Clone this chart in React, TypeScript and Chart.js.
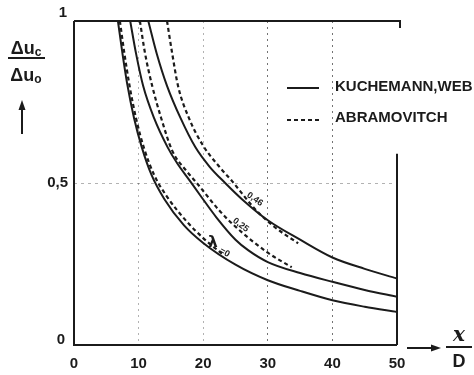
import React, { useEffect, useRef } from 'react';
import { Chart, registerables } from 'chart.js';

Chart.register(...registerables);

// ---- data ----
const xTickValues = [0, 10, 20, 30, 40, 50];
const yTickValues = [0, 0.5, 1];
const yTickLabels = ['0', '0,5', '1'];

const legendLabels = ['KUCHEMANN,WEB', 'ABRAMOVITCH'];
const curveLabels = ['0,46', '0,25', '=0'];

// KUCHEMANN, WEBER (solid)
const kuchemannL0 = [[6.8, 1.0], [7.5, 0.9], [8.2, 0.81], [9.3, 0.7], [10.5, 0.61], [12, 0.525], [14, 0.45], [17, 0.37], [20, 0.315], [25, 0.248], [30, 0.2], [35, 0.167], [40, 0.138], [45, 0.118], [50, 0.102]];
const kuchemannL025 = [[8.7, 1.0], [9.6, 0.9], [10.7, 0.8], [12.4, 0.7], [14.5, 0.61], [16, 0.56], [18, 0.505], [19.5, 0.463], [22, 0.395], [25, 0.325], [27, 0.292], [30, 0.256], [35, 0.222], [40, 0.195], [45, 0.17], [50, 0.149]];
const kuchemannL046 = [[11.5, 1.0], [12.8, 0.9], [14.4, 0.8], [16.5, 0.7], [18.8, 0.61], [21, 0.55], [23.4, 0.5], [26, 0.45], [30, 0.385], [35, 0.325], [40, 0.27], [45, 0.235], [50, 0.205]];

// ABRAMOVITCH (dashed)
const abramovitchL0 = [[7.1, 1.0], [7.8, 0.9], [8.6, 0.8], [9.6, 0.7], [10.8, 0.61], [12.4, 0.525], [14.5, 0.455], [17.5, 0.38], [20, 0.33], [23, 0.28]];
const abramovitchL025 = [[10.2, 1.0], [11, 0.9], [12.1, 0.8], [13.5, 0.7], [15.2, 0.6], [17.5, 0.535], [19, 0.5], [22.5, 0.415], [25, 0.365], [30, 0.285], [33.7, 0.24]];
const abramovitchL046 = [[14.4, 1.0], [15.2, 0.9], [16.1, 0.8], [17.8, 0.7], [20, 0.615], [22.5, 0.55], [24.5, 0.505], [28, 0.42], [31, 0.365], [34.7, 0.314]];

const INK = '#1b1b1b';
const FONT = "'Liberation Sans', Arial, sans-serif";

export default function App() {
  const ref = useRef<HTMLCanvasElement>(null);

  useEffect(() => {
    document.body.style.margin = '0';
    document.body.style.background = '#ffffff';
    const canvas = ref.current;
    if (!canvas) return;

    const toPts = (arr: number[][]) => arr.map(([x, y]) => ({ x, y }));
    const solid = (arr: number[][], label: string) => ({
      label,
      data: toPts(arr),
      borderColor: INK,
      borderWidth: 2,
      pointRadius: 0,
      cubicInterpolationMode: 'monotone' as const,
      fill: false,
    });
    const dashed = (arr: number[][], label: string) => ({
      ...solid(arr, label),
      borderDash: [4, 3],
      borderWidth: 2.2,
    });

    const decor = {
      id: 'decor',
      afterDraw(chart: any) {
        const { ctx, chartArea } = chart;
        const xs = chart.scales.x;
        const ys = chart.scales.y;
        const L = chartArea.left, R = chartArea.right, T = chartArea.top, B = chartArea.bottom;
        ctx.save();
        ctx.strokeStyle = INK;
        ctx.fillStyle = INK;
        ctx.lineWidth = 2;
        ctx.setLineDash([]);
        // frame
        ctx.beginPath();
        ctx.moveTo(L, T); ctx.lineTo(L, B); ctx.lineTo(R, B);
        ctx.moveTo(R, B); ctx.lineTo(R, ys.getPixelForValue(0.59));
        ctx.moveTo(L, T); ctx.lineTo(R + 3, T); ctx.lineTo(R + 3, T + 7);
        ctx.stroke();

        // y tick labels
        ctx.font = `bold 15px ${FONT}`;
        ctx.textBaseline = 'middle';
        yTickValues.forEach((v, i) => {
          const py = ys.getPixelForValue(v);
          if (v === 1) { ctx.textAlign = 'center'; ctx.fillText(yTickLabels[i], L - 11, py - 8); }
          else if (v === 0) { ctx.textAlign = 'center'; ctx.fillText(yTickLabels[i], L - 13, py - 5); }
          else { ctx.textAlign = 'right'; ctx.fillText(yTickLabels[i], L - 6, py); }
        });

        // y title: Δu_c / Δu_o
        const drawSub = (main: string, sub: string, cx: number, cy: number) => {
          ctx.font = `bold 18px ${FONT}`;
          const w1 = ctx.measureText(main).width;
          ctx.font = `bold 12px ${FONT}`;
          const w2 = ctx.measureText(sub).width;
          const x0 = cx - (w1 + w2) / 2;
          ctx.textAlign = 'left';
          ctx.font = `bold 18px ${FONT}`;
          ctx.fillText(main, x0, cy);
          ctx.font = `bold 12px ${FONT}`;
          ctx.fillText(sub, x0 + w1, cy + 4);
        };
        drawSub('Δu', 'c', 26, 49);
        ctx.beginPath(); ctx.moveTo(8, 58); ctx.lineTo(45, 58); ctx.stroke();
        drawSub('Δu', 'o', 26, 76);
        // up arrow
        ctx.beginPath(); ctx.moveTo(22, 134); ctx.lineTo(22, 108); ctx.stroke();
        ctx.beginPath(); ctx.moveTo(22, 100); ctx.lineTo(18.5, 110); ctx.lineTo(25.5, 110); ctx.closePath(); ctx.fill();

        // legend
        ctx.lineWidth = 2;
        ctx.beginPath(); ctx.moveTo(287, 88); ctx.lineTo(319, 88); ctx.stroke();
        ctx.setLineDash([4, 3]);
        ctx.beginPath(); ctx.moveTo(287, 120); ctx.lineTo(319, 120); ctx.stroke();
        ctx.setLineDash([]);
        ctx.font = `bold 15px ${FONT}`;
        ctx.textAlign = 'left';
        ctx.fillText(legendLabels[0], 335, 87);
        ctx.fillText(legendLabels[1], 335, 118);

        // x title arrow and x/D
        ctx.beginPath(); ctx.moveTo(407, 348); ctx.lineTo(432, 348); ctx.stroke();
        ctx.beginPath(); ctx.moveTo(441, 348); ctx.lineTo(431, 344.5); ctx.lineTo(431, 351.5); ctx.closePath(); ctx.fill();
        ctx.textAlign = 'center';
        ctx.font = `italic bold 20px 'DejaVu Serif', serif`;
        ctx.fillText('x', 459, 336);
        ctx.beginPath(); ctx.moveTo(446, 347); ctx.lineTo(472, 347); ctx.stroke();
        ctx.font = `bold 18px ${FONT}`;
        ctx.fillText('D', 459, 362);

        // curve labels
        const rot = (txt: string, xv: number, yv: number, ang: number, size: number) => {
          ctx.save();
          ctx.translate(xs.getPixelForValue(xv), ys.getPixelForValue(yv));
          ctx.rotate(ang * Math.PI / 180);
          ctx.font = `bold ${size}px ${FONT}`;
          ctx.textAlign = 'center';
          ctx.textBaseline = 'middle';
          ctx.fillText(txt, 0, 0);
          ctx.restore();
        };
        rot(curveLabels[0], 28.0, 0.45, 35, 9);
        rot(curveLabels[1], 25.8, 0.37, 37, 9);
        ctx.font = `bold 15px 'DejaVu Sans', sans-serif`;
        ctx.textAlign = 'center';
        ctx.textBaseline = 'middle';
        ctx.fillText('λ', xs.getPixelForValue(21.5), ys.getPixelForValue(0.315));
        rot(curveLabels[2], 23.3, 0.285, 30, 9);
        ctx.restore();
      },
    };

    const gridColor = (edgeA: number, edgeB: number) => (c: any) => {
      const v = c.tick ? c.tick.value : null;
      if (v === edgeA || v === edgeB) return 'rgba(0,0,0,0)';
      if (v === 30 || v === 40) return 'rgba(0,0,0,0.55)';
      return 'rgba(0,0,0,0.3)';
    };

    const chart = new Chart(canvas, {
      type: 'line',
      data: {
        datasets: [
          solid(kuchemannL0, 'KUCHEMANN λ=0'),
          dashed(abramovitchL0, 'ABRAMOVITCH λ=0'),
          solid(kuchemannL025, 'KUCHEMANN λ=0,25'),
          dashed(abramovitchL025, 'ABRAMOVITCH λ=0,25'),
          solid(kuchemannL046, 'KUCHEMANN λ=0,46'),
          dashed(abramovitchL046, 'ABRAMOVITCH λ=0,46'),
        ],
      },
      options: {
        responsive: false,
        animation: false,
        layout: { padding: { left: 74, right: 77, top: 21, bottom: -8 } },
        plugins: { legend: { display: false }, tooltip: { enabled: false } },
        scales: {
          x: {
            type: 'linear',
            min: 0,
            max: 50,
            afterBuildTicks: (axis: any) => { axis.ticks = xTickValues.map((v) => ({ value: v })); },
            ticks: {
              autoSkip: false,
              maxRotation: 0,
              padding: 10,
              color: INK,
              font: { family: FONT, size: 15, weight: 'bold' },
            },
            grid: {
              drawTicks: false,
              lineWidth: 1,
              color: gridColor(0, 50),
            },
            border: { display: false, dash: [2, 4] },
          },
          y: {
            type: 'linear',
            min: 0,
            max: 1,
            afterBuildTicks: (axis: any) => { axis.ticks = yTickValues.map((v) => ({ value: v })); },
            ticks: { display: false },
            grid: {
              drawTicks: false,
              lineWidth: 1,
              color: gridColor(0, 1),
            },
            border: { display: false, dash: [3, 4] },
          },
        },
      },
      plugins: [decor],
    });

    return () => chart.destroy();
  }, []);

  return (
    <div style={{ width: 474, height: 375, background: '#fff' }}>
      <canvas ref={ref} width={474} height={375} style={{ display: 'block' }} />
    </div>
  );
}
